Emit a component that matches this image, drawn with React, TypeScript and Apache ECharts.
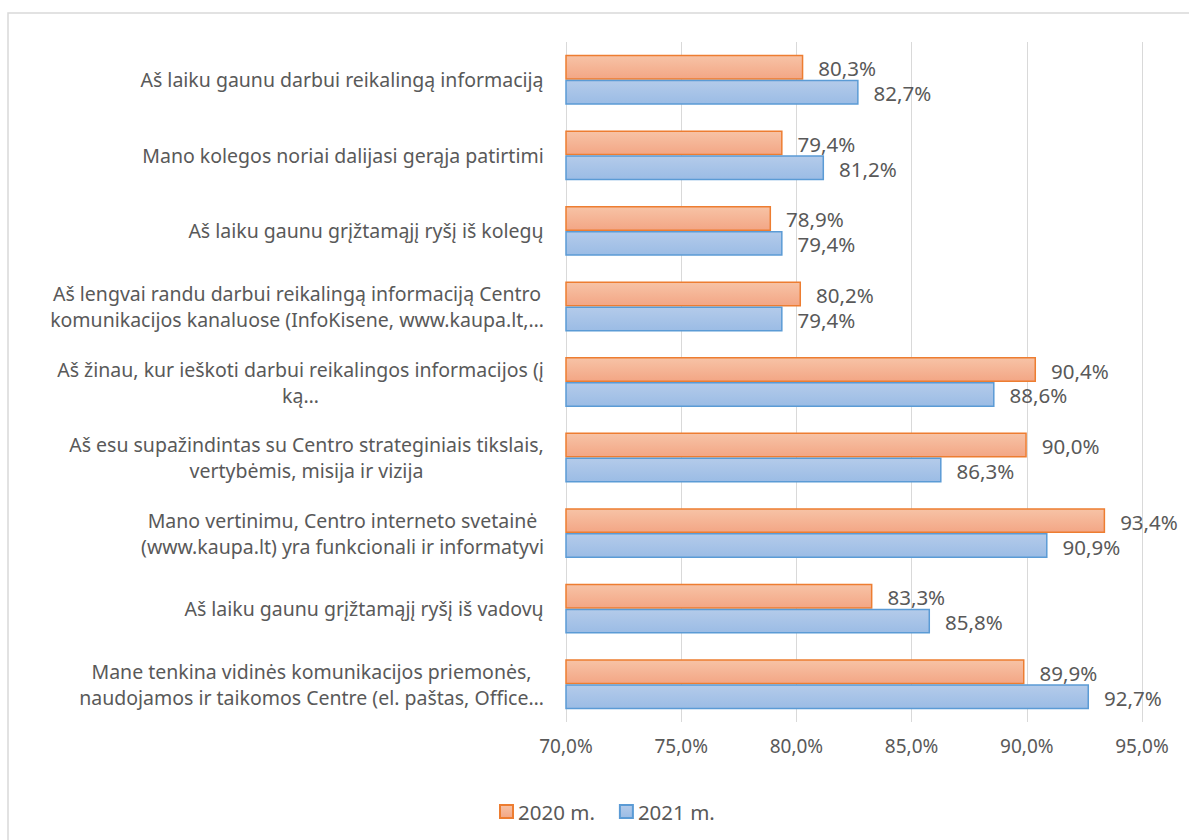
import React, { useEffect, useRef } from "react";
import * as echarts from "echarts";

const categories: string[] = [
  "Aš laiku gaunu darbui reikalingą informaciją",
  "Mano kolegos noriai dalijasi gerąja patirtimi",
  "Aš laiku gaunu grįžtamąjį ryšį iš kolegų",
  "Aš lengvai randu darbui reikalingą informaciją Centro\nkomunikacijos kanaluose (InfoKisene, www.kaupa.lt,…",
  "Aš žinau, kur ieškoti darbui reikalingos informacijos (į\nką…",
  "Aš esu supažindintas su Centro strateginiais tikslais,\nvertybėmis, misija ir vizija",
  "Mano vertinimu, Centro interneto svetainė\n(www.kaupa.lt) yra funkcionali ir informatyvi",
  "Aš laiku gaunu grįžtamąjį ryšį iš vadovų",
  "Mane tenkina vidinės komunikacijos priemonės,\nnaudojamos ir taikomos Centre (el. paštas, Office…",
];
const values2020: number[] = [80.3, 79.4, 78.9, 80.2, 90.4, 90.0, 93.4, 83.3, 89.9];
const values2021: number[] = [82.7, 81.2, 79.4, 79.4, 88.6, 86.3, 90.9, 85.8, 92.7];
const seriesNames: string[] = ["2020 m.", "2021 m."];

const FONT = "'Noto Sans', sans-serif";
const CAT_SIZE = 19.5;
const AXIS_SIZE = 19;
const VAL_SIZE = 20.5;
const GRAY = "#595959";

function measure(text: string): number {
  const c = document.createElement("canvas");
  const ctx = c.getContext("2d");
  if (!ctx) return 450;
  ctx.font = `${CAT_SIZE}px 'Noto Sans'`;
  return ctx.measureText(text).width;
}

const fmt = (v: number) => v.toFixed(1).replace(".", ",") + "%";

export default function App() {
  const ref = useRef<HTMLDivElement>(null);
  useEffect(() => {
    if (!ref.current) return;
    const chart = echarts.init(ref.current, undefined, { renderer: "svg" });

    const rich: Record<string, any> = {};
    categories.forEach((c, i) => {
      const w = Math.max(...c.split("\n").map(measure));
      rich["c" + i] = {
        width: Math.ceil(w) + 2,
        align: "center",
        fontSize: CAT_SIZE,
        fontFamily: FONT,
        color: GRAY,
        lineHeight: 26,
      };
    });

    const orangeGrad = new echarts.graphic.LinearGradient(0, 0, 0, 1, [
      { offset: 0, color: "#f7c3a6" },
      { offset: 1, color: "#f3a685" },
    ]);
    const blueGrad = new echarts.graphic.LinearGradient(0, 0, 0, 1, [
      { offset: 0, color: "#b4cbea" },
      { offset: 1, color: "#9bbce5" },
    ]);

    const labelCfg = {
      show: true,
      position: "right",
      distance: 15,
      offset: [0, 1],
      formatter: (p: any) => fmt(p.value),
      color: GRAY,
      fontSize: VAL_SIZE,
      fontFamily: FONT,
    };

    chart.setOption({
      animation: false,
      backgroundColor: "#ffffff",
      graphic: [
        {
          type: "rect",
          shape: { x: 8, y: 13, width: 1300, height: 1000 },
          style: { fill: "none", stroke: "#d9d9d9", lineWidth: 1.5 },
          silent: true,
        },
      ],
      grid: { left: 566, right: 47, top: 42, bottom: 118, containLabel: false },
      legend: {
        bottom: 13,
        left: 494,
        itemWidth: 13,
        itemHeight: 13,
        itemGap: 24,
        icon: "rect",
        textStyle: { color: GRAY, fontSize: VAL_SIZE, fontFamily: FONT },
        data: seriesNames,
      },
      xAxis: {
        type: "value",
        min: 70,
        max: 95,
        interval: 5,
        axisLine: { show: false },
        axisTick: { show: false },
        splitLine: { show: true, lineStyle: { color: "#d9d9d9", width: 1 } },
        axisLabel: {
          formatter: (v: number) => fmt(v),
          color: GRAY,
          fontSize: AXIS_SIZE,
          fontFamily: FONT,
          margin: 14,
        },
      },
      yAxis: {
        type: "category",
        inverse: true,
        data: categories,
        axisLine: { show: false },
        axisTick: { show: false },
        axisLabel: {
          margin: 21,
          formatter: (v: string) => {
            const i = categories.indexOf(v);
            return `{c${i}|${v}}`;
          },
          rich,
          color: GRAY,
          fontSize: CAT_SIZE,
          fontFamily: FONT,
        },
      },
      series: [
        {
          name: seriesNames[0],
          type: "bar",
          data: values2020,
          barGap: "0%",
          barCategoryGap: "34%",
          itemStyle: { color: orangeGrad, borderColor: "#ed7d31", borderWidth: 1.5 },
          label: labelCfg,
        },
        {
          name: seriesNames[1],
          type: "bar",
          data: values2021,
          barGap: "0%",
          barCategoryGap: "34%",
          itemStyle: { color: blueGrad, borderColor: "#5b9bd5", borderWidth: 1.5 },
          label: labelCfg,
        },
      ],
    });
    return () => chart.dispose();
  }, []);
  return (
    <div
      ref={ref}
      style={{ position: "absolute", left: 0, top: 0, width: 1189, height: 840 }}
    />
  );
}
